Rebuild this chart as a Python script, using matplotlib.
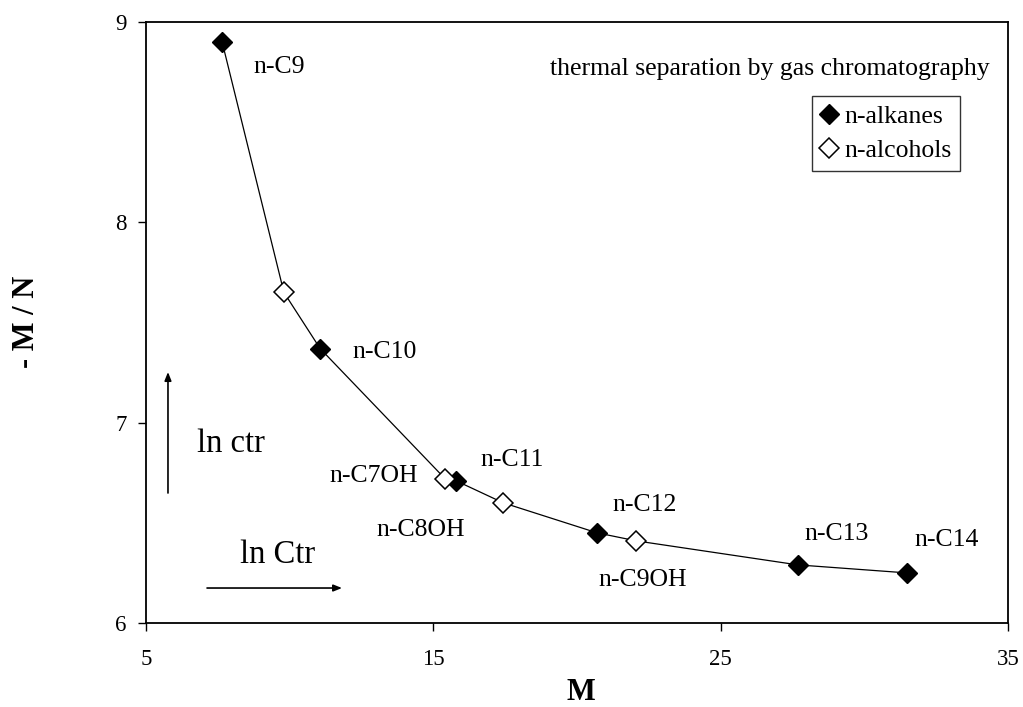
import matplotlib
matplotlib.use("Agg")
import matplotlib.pyplot as plt

plt.rcParams['font.family'] = ['Liberation Serif', 'DejaVu Serif']

# retention data, -M/N against M
alkane_names = ['n-C9', 'n-C10', 'n-C11', 'n-C12', 'n-C13', 'n-C14']
alkane_m = [7.65, 11.06, 15.79, 20.70, 27.69, 31.49]
alkane_y = [8.90, 7.37, 6.71, 6.45, 6.29, 6.25]

alcohol_names = ['', 'n-C7OH', 'n-C8OH', 'n-C9OH']
alcohol_m = [9.80, 15.41, 17.43, 22.06]
alcohol_y = [7.65, 6.72, 6.60, 6.41]

# label offsets in pixels: dx right, dy down to the baseline
alkane_offsets = [(31, 31, 'left'), (32, 9, 'left'), (24, -15, 'left'),
                  (15, -22, 'left'), (6, -25, 'left'), (7, -27, 'left')]
alcohol_offsets = [(0, 0, 'left'), (-27, 3, 'right'), (-38, 33, 'right'),
                   (-38, 45, 'left')]

fig = plt.figure(figsize=(10.23, 7.07), dpi=100)
ax = fig.add_axes([146 / 1023, 1 - 623 / 707, 862 / 1023, 601 / 707])

# one curve through every compound, ordered by M
pts = sorted(zip(alkane_m + alcohol_m, alkane_y + alcohol_y))
ax.plot([p[0] for p in pts], [p[1] for p in pts], color='black', lw=0.9, zorder=2)

ax.plot(alkane_m, alkane_y, linestyle='none', marker='D', ms=10.5,
        mfc='black', mec='black', mew=1, zorder=3, label='n-alkanes')
ax.plot(alcohol_m, alcohol_y, linestyle='none', marker='D', ms=10.5,
        mfc='white', mec='black', mew=1.1, zorder=3, label='n-alcohols')

for name, x, y, (dx, dy, ha) in zip(alkane_names + alcohol_names,
                                    alkane_m + alcohol_m,
                                    alkane_y + alcohol_y,
                                    alkane_offsets + alcohol_offsets):
    if not name:
        continue
    ax.annotate(name, (x, y), xytext=(dx * 0.72, -dy * 0.72),
                textcoords='offset points', ha=ha, va='baseline', fontsize=18.5)

ax.text(0.979, 0.912, 'thermal separation by gas chromatography',
        transform=ax.transAxes, ha='right', va='baseline', fontsize=18.5)

leg = ax.legend(loc='upper left', bbox_to_anchor=(0.7726, 0.877),
                borderaxespad=0, fontsize=18.5, handlelength=0.6,
                handletextpad=0.3, borderpad=0.35, labelspacing=0.42,
                fancybox=False, frameon=True)
leg.get_frame().set_edgecolor('black')
leg.get_frame().set_linewidth(1.0)

# direction arrows
ax.annotate('', xy=(0.0255, 0.4176), xytext=(0.0255, 0.2163),
            xycoords='axes fraction',
            arrowprops=dict(arrowstyle='-|>,head_length=0.5,head_width=0.2',
                            color='black', lw=1.2, shrinkA=0, shrinkB=0))
ax.annotate('', xy=(0.2274, 0.0582), xytext=(0.0708, 0.0582),
            xycoords='axes fraction',
            arrowprops=dict(arrowstyle='-|>,head_length=0.5,head_width=0.2',
                            color='black', lw=1.2, shrinkA=0, shrinkB=0))
ax.text(0.0592, 0.2845, 'ln ctr', transform=ax.transAxes,
        ha='left', va='baseline', fontsize=23.5)
ax.text(0.109, 0.0998, 'ln Ctr', transform=ax.transAxes,
        ha='left', va='baseline', fontsize=23.5)

ax.set_xlim(5, 35)
ax.set_ylim(6, 9)
ax.set_xticks([5, 15, 25, 35])
ax.set_yticks([6, 7, 8, 9])
ax.tick_params(direction='out', length=5.5, width=1.0, pad=8.5, labelsize=16.5)
ax.tick_params(axis='x', pad=13)
for s in ax.spines.values():
    s.set_linewidth(1.3)

ax.set_xlabel('M', fontsize=22, fontweight='bold')
ax.xaxis.set_label_coords(0.5046, -0.0915)
fig.text(26 / 1023, 1 - 322 / 707, '- M / N', rotation=90, ha='center',
         va='center', fontsize=22, fontweight='bold')

fig.savefig('out.png', dpi=100)
